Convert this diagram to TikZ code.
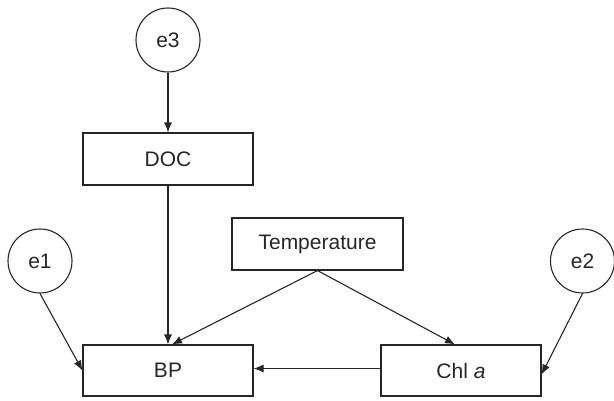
\documentclass[tikz,border=0pt]{standalone}
\usepackage{fontspec}
\setmainfont{Liberation Sans}
\usetikzlibrary{arrows.meta}
\begin{document}
\begin{tikzpicture}[x=1pt,y=-1pt,
  every node/.style={font=\fontsize{21}{25}\selectfont, text=black!85, draw=black!85, line width=1.1pt, inner sep=0pt},
  var/.style={rectangle, minimum height=51pt},
  err/.style={circle, minimum size=64pt},
  arr/.style={draw=black!85, line width=1.1pt, -{Latex[length=10pt,width=8pt]}}]
\useasboundingbox (0,0) rectangle (614,400);
\node[err] (e3) at (168,40) {e3};
\node[var, minimum width=170pt, minimum height=52pt] (doc) at (168,159) {DOC};
\node[err] (e1) at (40,261) {e1};
\node[var, minimum width=171pt, minimum height=52pt] (temp) at (317.5,244) {Temperature};
\node[var, minimum width=170pt] (bp) at (168,370.5) {BP};
\node[var, minimum width=160pt] (chl) at (461,370.5) {Chl \textit{a}};
\node[err] (e2) at (582.5,261) {e2};
\draw[arr] (e3.south) -- (doc.north);
\draw[arr] (doc.south) -- (bp.north);
\draw[arr] (e1.south) -- (bp.west);
\draw[arr] (e2.south) -- ([yshift=-4pt]chl.east);
\draw[arr] (temp.south) -- ([xshift=4pt]bp.north);
\draw[arr] (temp.south) -- ([xshift=-6pt]chl.north);
\draw[arr] ([yshift=2pt]chl.west) -- ([yshift=2pt]bp.east);
\end{tikzpicture}
\end{document}
